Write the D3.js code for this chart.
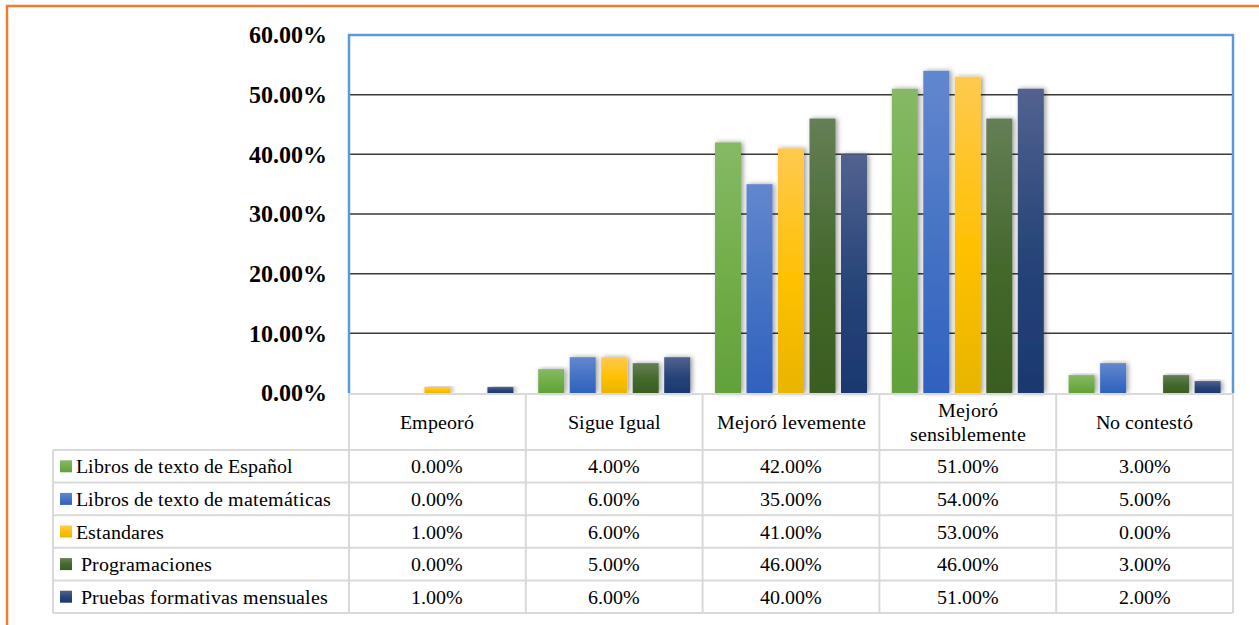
<!DOCTYPE html>
<html>
<head>
<meta charset="utf-8">
<script src="https://cdn.jsdelivr.net/npm/d3@7"></script>
<style>
  @font-face { font-family: "RefSerif"; font-weight: 400;
    src: local("Liberation Serif"), local("LiberationSerif"), local("LiberationSerif-Regular"), local("Times New Roman"), local("DejaVu Serif"), local("DejaVuSerif"), local("Noto Serif"), local("NotoSerif-Regular"); }
  @font-face { font-family: "RefSerif"; font-weight: 700;
    src: local("Liberation Serif Bold"), local("LiberationSerif-Bold"), local("Times New Roman Bold"), local("DejaVu Serif Bold"), local("DejaVuSerif-Bold"), local("Noto Serif Bold"), local("NotoSerif-Bold"); }
  html, body { margin: 0; padding: 0; background: #fff; }
  svg text { font-family: "RefSerif", "Liberation Serif", "Times New Roman", "DejaVu Serif", serif !important; }
</style>
</head>
<body>
<svg id="chart" width="1259" height="625"></svg>
<script>
// ---- Data ----
const categories = ["Empeoró", "Sigue Igual", "Mejoró levemente", "Mejoró sensiblemente", "No contestó"];
const seriesNames = ["Libros de texto de Español", "Libros de texto de matemáticas", "Estandares", " Programaciones", " Pruebas formativas mensuales"];
const librosEspanol = [0, 4, 42, 51, 3];
const librosMatematicas = [0, 6, 35, 54, 5];
const estandares = [1, 6, 41, 53, 0];
const programaciones = [0, 5, 46, 46, 3];
const pruebasFormativas = [1, 6, 40, 51, 2];
const yTickValues = [0, 10, 20, 30, 40, 50, 60];

const seriesValues = [librosEspanol, librosMatematicas, estandares, programaciones, pruebasFormativas];
const seriesColors = [
  ["#86b966", "#70ad47", "#62a13a"],
  ["#6387ce", "#4472c4", "#2f61bf"],
  ["#ffc94f", "#ffc000", "#e8b500"],
  ["#657f57", "#43682b", "#3a5d22"],
  ["#526290", "#264478", "#1c3870"]
];

// ---- Layout ----
const svg = d3.select("#chart");
const plotL = 349, plotR = 1233, plotT = 35, plotB = 393;
const tableL = 53;
const headerB = 450;
const rowH = 32.6;

const x0 = d3.scaleBand().domain(categories).range([plotL, plotR]).padding(0);
const x1 = d3.scaleBand().domain(d3.range(seriesNames.length)).range([0, x0.bandwidth()])
  .paddingInner(0.175).paddingOuter(0.394);
const y = d3.scaleLinear().domain([0, 60]).range([plotB, plotT]);

// defs
const defs = svg.append("defs");
seriesColors.forEach((c, i) => {
  const g = defs.append("linearGradient").attr("id", "grad" + i)
    .attr("x1", 0).attr("y1", 0).attr("x2", 0).attr("y2", 1);
  g.append("stop").attr("offset", "0%").attr("stop-color", c[0]);
  g.append("stop").attr("offset", "55%").attr("stop-color", c[1]);
  g.append("stop").attr("offset", "100%").attr("stop-color", c[2]);
});
const f = defs.append("filter").attr("id", "shadow").attr("x", "-50%").attr("y", "-10%").attr("width", "200%").attr("height", "120%");
f.append("feDropShadow").attr("dx", 2).attr("dy", 0).attr("stdDeviation", 2.5)
  .attr("flood-color", "#000").attr("flood-opacity", 0.4);

// outer orange border
svg.append("rect").attr("x", 7).attr("y", 6).attr("width", 1270).attr("height", 640)
  .attr("fill", "none").attr("stroke", "#ed7d31").attr("stroke-width", 2.5);

// gridlines
svg.append("g").selectAll("line").data(yTickValues.filter(d => d > 0 && d < 60)).join("line")
  .attr("x1", plotL).attr("x2", plotR)
  .attr("y1", d => y(d)).attr("y2", d => y(d))
  .attr("stroke", "#3a3a3a").attr("stroke-width", 1.5);

// y axis labels
const yAxis = d3.axisLeft(y).tickValues(yTickValues).tickSize(0).tickPadding(22)
  .tickFormat(d => d.toFixed(2) + "%");
const ya = svg.append("g").attr("transform", `translate(${plotL},0)`).call(yAxis);
ya.attr("font-family", null);
ya.select(".domain").remove();
ya.selectAll("text").attr("font-weight", "bold")
  .attr("font-size", 24).attr("fill", "#000");

// bars
const groups = svg.append("g").selectAll("g").data(categories).join("g")
  .attr("transform", d => `translate(${x0(d)},0)`);
groups.selectAll("rect")
  .data((d, ci) => seriesValues.map((vals, si) => ({ si, v: vals[ci] })).filter(e => e.v > 0))
  .join("rect")
  .attr("x", d => x1(d.si))
  .attr("width", x1.bandwidth())
  .attr("y", d => y(d.v))
  .attr("height", d => y(0) - y(d.v))
  .attr("fill", d => `url(#grad${d.si})`)
  .attr("filter", "url(#shadow)");

// plot border (blue)
svg.append("path")
  .attr("d", `M${plotL},${plotB} V${plotT} H${plotR} V${plotB}`)
  .attr("fill", "none").attr("stroke", "#5b9bd5").attr("stroke-width", 2.5);

// table
const grid = "#d9d9d9";
const tbl = svg.append("g");
const colEdges = categories.map(c => x0(c)).concat([plotR]);
const rowEdges = d3.range(seriesNames.length + 1).map(i => headerB + i * rowH);
tbl.append("line").attr("x1", plotL).attr("x2", plotR).attr("y1", plotB + 1).attr("y2", plotB + 1)
  .attr("stroke", grid).attr("stroke-width", 2);
tbl.selectAll("line.h").data(rowEdges).join("line").attr("class", "h")
  .attr("x1", tableL).attr("x2", plotR).attr("y1", d => d).attr("y2", d => d)
  .attr("stroke", grid).attr("stroke-width", 2);
tbl.selectAll("line.v").data(colEdges).join("line").attr("class", "v")
  .attr("x1", d => d).attr("x2", d => d).attr("y1", plotB).attr("y2", rowEdges[rowEdges.length - 1])
  .attr("stroke", grid).attr("stroke-width", 2);
tbl.append("line").attr("x1", tableL).attr("x2", tableL).attr("y1", headerB).attr("y2", rowEdges[rowEdges.length - 1])
  .attr("stroke", grid).attr("stroke-width", 2);

// header labels with wrapping
const fs = 20;
categories.forEach(c => {
  const cx = x0(c) + x0.bandwidth() / 2;
  const t = tbl.append("text").attr("x", cx).attr("text-anchor", "middle")
    .attr("font-size", fs).attr("fill", "#000");
  t.text(c);
  let lines = [c];
  if (c.split(" ").length > 1 && t.node().getComputedTextLength() > 165) {
    const words = c.split(" ");
    lines = [words[0], words.slice(1).join(" ")];
  }
  t.text(null);
  const midY = (plotB + headerB) / 2;
  const lh = 24;
  lines.forEach((ln, i) => {
    t.append("tspan").attr("x", cx)
      .attr("y", midY + (i - (lines.length - 1) / 2) * lh)
      .attr("dy", "0.35em").text(ln);
  });
});

// legend rows
seriesNames.forEach((name, si) => {
  const cy = rowEdges[si] + rowH / 2;
  tbl.append("rect").attr("x", 60).attr("y", cy - 6).attr("width", 12).attr("height", 12)
    .attr("fill", `url(#grad${si})`);
  tbl.append("text").attr("x", 76).attr("y", cy).attr("dy", "0.35em")
    .attr("font-size", fs).attr("fill", "#000").style("white-space", "pre").text(name);
  categories.forEach((c, ci) => {
    tbl.append("text").attr("x", x0(c) + x0.bandwidth() / 2).attr("y", cy).attr("dy", "0.35em")
      .attr("text-anchor", "middle").attr("font-size", fs).attr("fill", "#000")
      .text(seriesValues[si][ci].toFixed(2) + "%");
  });
});
</script>
</body>
</html>
